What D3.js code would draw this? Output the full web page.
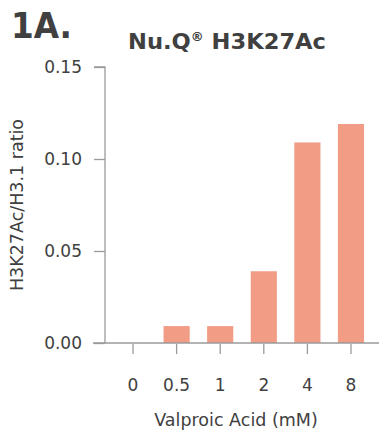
<!DOCTYPE html>
<html>
<head>
<meta charset="utf-8">
<script src="https://cdn.jsdelivr.net/npm/d3@7"></script>
<style>
  body { margin: 0; background: #fff; }
  text { font-family: "DejaVu Sans", sans-serif; fill: #404040; }
</style>
</head>
<body>
<div id="chart"></div>
<script>
// data
const doses = ['0', '0.5', '1', '2', '4', '8'];
const ratios = [0, 0.0092, 0.0092, 0.039, 0.109, 0.119];
const yTicks = [0, 0.05, 0.10, 0.15];

const width = 379, height = 437;
const barColor = '#f29c86';
const axisColor = '#9a9a9a';
const font = '"DejaVu Sans", sans-serif';

const svg = d3.select('#chart').append('svg')
  .attr('width', width)
  .attr('height', height);

const x = d3.scaleBand()
  .domain(doses)
  .range([102.5, 381.5])
  .paddingInner(0.4)
  .paddingOuter(0.4);

const y = d3.scaleLinear()
  .domain([0, 0.15])
  .range([343, 67]);

// titles
svg.append('text')
  .attr('x', 11).attr('y', 38)
  .attr('textLength', 61).attr('lengthAdjust', 'spacingAndGlyphs')
  .style('font-size', '36px').style('font-weight', 700)
  .text('1A.');

const title = svg.append('text')
  .attr('x', 128).attr('y', 49)
  .attr('textLength', 198).attr('lengthAdjust', 'spacingAndGlyphs')
  .style('font-size', '21px').style('font-weight', 700);
title.append('tspan').text('Nu.Q');
title.append('tspan').attr('dy', -8).style('font-size', '12px').text('®');
title.append('tspan').attr('dy', 8).text(' H3K27Ac');

// bars
svg.selectAll('.bar')
  .data(doses)
  .enter().append('rect')
  .attr('class', 'bar')
  .attr('x', d => x(d))
  .attr('width', x.bandwidth())
  .attr('y', (d, i) => y(ratios[i]))
  .attr('height', (d, i) => y(0) - y(ratios[i]))
  .attr('fill', barColor);

// y axis
const yAxis = svg.append('g')
  .attr('transform', 'translate(105,0)')
  .call(d3.axisLeft(y).tickValues(yTicks).tickFormat(d3.format('.2f')).tickSize(11).tickPadding(12));
yAxis.select('.domain').attr('d', 'M-11,' + y(0.15) + 'H0V' + y(0)).attr('stroke', axisColor).attr('stroke-width', 1.3);
yAxis.selectAll('.tick line').attr('stroke', axisColor).attr('stroke-width', 1.3);
yAxis.selectAll('.tick text')
  .style('font-family', font)
  .style('font-size', '17px').attr('fill', '#404040');

// x axis line (full width)
svg.append('line')
  .attr('x1', 93).attr('x2', 379)
  .attr('y1', y(0)).attr('y2', y(0))
  .attr('stroke', axisColor).attr('stroke-width', 1.3);

// x ticks, detached below the baseline
const xAxis = svg.append('g')
  .attr('transform', 'translate(0,' + (y(0) + 11) + ')')
  .call(d3.axisBottom(x).tickSize(0).tickPadding(0));
xAxis.select('.domain').remove();
xAxis.selectAll('.tick line')
  .attr('y1', -10).attr('y2', 0)
  .attr('stroke', axisColor).attr('stroke-width', 1.3);
xAxis.selectAll('.tick text')
  .attr('y', 25)
  .style('font-family', font)
  .style('font-size', '17px').attr('fill', '#404040');

// axis titles
svg.append('text')
  .attr('x', 236).attr('y', 426)
  .attr('text-anchor', 'middle')
  .style('font-size', '17.5px')
  .text('Valproic Acid (mM)');

svg.append('text')
  .attr('transform', 'translate(23,205) rotate(-90)')
  .attr('text-anchor', 'middle')
  .style('font-size', '17.5px')
  .text('H3K27Ac/H3.1 ratio');
</script>
</body>
</html>
